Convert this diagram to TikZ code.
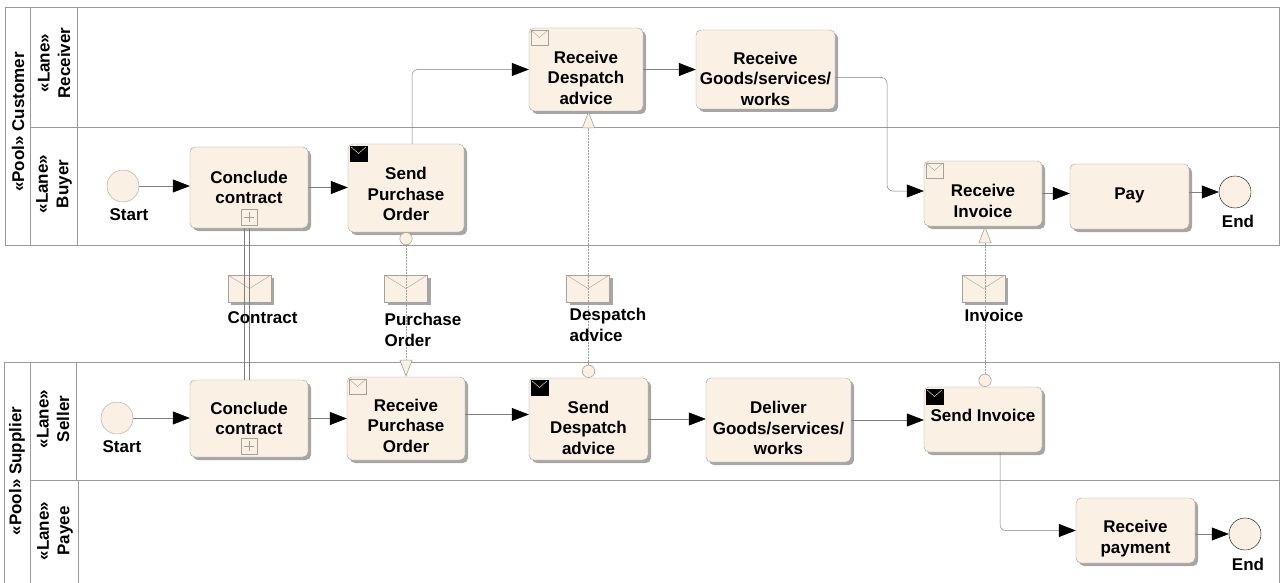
\documentclass[tikz,border=0pt]{standalone}
\usepackage{fontspec}
\setmainfont{Liberation Sans}
\usetikzlibrary{arrows.meta,shadows}

\definecolor{cream}{HTML}{FAF0E3}
\definecolor{edge}{HTML}{A8A198}
\definecolor{wire}{HTML}{808080}
\definecolor{pane}{HTML}{9A9A9A}

\newcommand{\iconpad}[1][25pt]{\rule{0pt}{#1}}

\tikzset{
  txt/.style={font=\bfseries\fontsize{17}{20.5}\selectfont, align=center, inner sep=0pt},
  task/.style={txt, draw=edge, fill=cream, rounded corners=5pt,
    general shadow={shadow xshift=3pt, shadow yshift=-3pt, fill=black!35}},
  event/.style={circle, draw=edge, fill=cream, minimum size=32pt, inner sep=0pt},
  endevent/.style={event, draw=black},
  envelope/.style={draw=edge, fill=cream, minimum width=43pt, minimum height=27pt, inner sep=0pt,
    general shadow={shadow xshift=3pt, shadow yshift=-3pt, fill=black!35},
    path picture={\draw[edge] (path picture bounding box.north west)
      -- (path picture bounding box.center) -- (path picture bounding box.north east);}},
  recvicon/.style={draw=edge, fill=cream, minimum width=17pt, minimum height=15pt, inner sep=0pt, anchor=north west,
    path picture={\draw[edge] (path picture bounding box.north west)
      -- (path picture bounding box.center) -- (path picture bounding box.north east);}},
  sendicon/.style={draw=black, fill=black, minimum width=17pt, minimum height=15pt, inner sep=0pt, anchor=north west,
    path picture={\draw[white] (path picture bounding box.north west)
      -- (path picture bounding box.center) -- (path picture bounding box.north east);}},
  plusicon/.style={draw=edge, fill=cream, minimum size=16pt, inner sep=0pt, anchor=south,
    path picture={\draw[edge] ([yshift=-3pt]path picture bounding box.north) -- ([yshift=3pt]path picture bounding box.south)
      ([xshift=3pt]path picture bounding box.west) -- ([xshift=-3pt]path picture bounding box.east);}},
  flow/.style={draw=wire, line width=0.5pt, rounded corners=6pt, -{Triangle[length=17pt,width=13pt,color=black,fill=black]}},
  msgflow/.style={draw=wire!75, line width=0.6pt, dash pattern=on 2pt off 1pt, {Circle[length=13pt,width=13pt,color=edge,fill=cream]}-{Triangle[length=17pt,width=13pt,color=edge,fill=cream]}},
  swim/.style={draw=pane, line width=0.8pt}
}

\begin{document}
\begin{tikzpicture}[x=1pt, y=-1pt]
    \useasboundingbox (0,0) rectangle (1280,583);

    % Pool customer
    \draw[swim] (5,7) rectangle (1279,245);
    \draw[swim] (30,7) -- (30,245);
    \draw[swim] (77,7) -- (77,245);
    \draw[swim] (30,127) -- (1279,127);
    \node[txt, rotate=90] (poolcust) at (18,122) {«Pool» Customer};
    \node[txt, rotate=90] (lanerecv) at (54,63) {«Lane»\\Receiver};
    \node[txt, rotate=90] (lanebuy) at (54,184) {«Lane»\\Buyer};

    % Pool supplier
    \draw[swim] (4,362) -- (1279,362) -- (1279,583);
    \draw[swim] (4,362) -- (4,583);
    \draw[swim] (30,362) -- (30,583);
    \draw[swim] (76,362) -- (76,480);
    \draw[swim] (78,480) -- (78,583);
    \draw[swim] (30,480) -- (1279,480);
    \node[txt, rotate=90] (poolsupp) at (17,471) {«Pool» Supplier};
    \node[txt, rotate=90] (lanesell) at (53,419) {«Lane»\\Seller};
    \node[txt, rotate=90] (lanepayee) at (55,531) {«Lane»\\Payee};

    % Messages
    \node[envelope] (msgcontract) at (249.5,288.5) {};
    \node[envelope] (msgorder) at (406,288.5) {};
    \node[envelope] (msgdespatch) at (588,288.5) {};
    \node[envelope] (msginvoice) at (983.5,288.5) {};

    % Buyer and receiver
    \node[event] (startbuy) at (123,186) {};
    \node[txt] (startbuylbl) at (129,215) {Start};
    \node[task, minimum width=118pt, minimum height=81pt] (concbuy) at (249,187.5) {Conclude\\contract};
    \node[plusicon] (plusbuy) at ([yshift=3pt]concbuy.south) {};
    \node[task, minimum width=116pt, minimum height=88pt] (sendpo) at (406,188) {\iconpad{}Send\\Purchase\\Order};
    \node[sendicon] (sendpoicon) at ([xshift=2pt,yshift=-2pt]sendpo.north west) {};
    \node[task, minimum width=114pt, minimum height=83pt] (recvdesp) at (586,69.5) {\iconpad[29pt]Receive\\Despatch\\advice};
    \node[recvicon] (recvdespicon) at ([xshift=2pt,yshift=-2pt]recvdesp.north west) {};
    \node[task, minimum width=139pt, minimum height=79pt] (recvgoods) at (765.5,69.5) {\iconpad[31pt]Receive\\Goods/services/\\works};
    \node[task, minimum width=118pt, minimum height=65pt] (recvinv) at (983,193.5) {\iconpad[27pt]Receive\\Invoice};
    \node[recvicon] (recvinvicon) at ([xshift=2pt,yshift=-2pt]recvinv.north west) {};
    \node[task, minimum width=119pt, minimum height=65pt] (pay) at (1129.5,196.5) {Pay\rule[-6pt]{0pt}{6pt}};
    \node[endevent] (endbuy) at (1235,192) {};
    \node[txt] (endbuylbl) at (1238,221) {End};

    % Seller and payee
    \node[event] (startsell) at (117,418) {};
    \node[txt] (startselllbl) at (122,447) {Start};
    \node[task, minimum width=118pt, minimum height=77pt] (concsell) at (249,418.5) {Conclude\\contract};
    \node[plusicon] (plussell) at ([yshift=3pt]concsell.south) {};
    \node[task, minimum width=118pt, minimum height=83pt] (recvpo) at (406,418.5) {\iconpad[27pt]Receive\\Purchase\\Order};
    \node[recvicon] (recvpoicon) at ([xshift=2pt,yshift=-2pt]recvpo.north west) {};
    \node[task, minimum width=119pt, minimum height=82pt] (senddesp) at (588.5,419) {\iconpad[30pt]Send\\Despatch\\advice};
    \node[sendicon] (senddespicon) at ([xshift=2pt,yshift=-2pt]senddesp.north west) {};
    \node[task, minimum width=145pt, minimum height=84pt] (deliver) at (778.5,420) {\iconpad[29pt]Deliver\\Goods/services/\\works};
    \node[task, minimum width=118pt, minimum height=65pt] (sendinv) at (983,419.5) {Send Invoice\rule[-8pt]{0pt}{8pt}};
    \node[sendicon] (sendinvicon) at ([xshift=2pt,yshift=-2pt]sendinv.north west) {};
    \node[task, minimum width=119pt, minimum height=65pt] (recvpay) at (1135.5,530.5) {\iconpad[29pt]Receive\\payment};
    \node[endevent] (endpayee) at (1245,534) {};
    \node[txt] (endpayeelbl) at (1248,564) {End};

    % Sequence flows
    \coordinate (goodsdrop) at (887,191);
    \draw[flow] (startbuy.east) -- (startbuy.east -| concbuy.west);
    \draw[flow] (concbuy.east) -- (concbuy.east -| sendpo.west);
    \draw[flow] ([xshift=6pt]sendpo.north) |- (recvdesp.west);
    \draw[flow] (recvdesp.east) -- (recvdesp.east -| recvgoods.west);
    \draw[flow] ([yshift=-8pt]recvgoods.east) -| (goodsdrop) -- (goodsdrop -| recvinv.west);
    \draw[flow] (recvinv.east) -- (recvinv.east -| pay.west);
    \draw[flow] ([yshift=4.5pt]pay.east) -- (endbuy.west);
    \draw[flow] (startsell.east) -- (startsell.east -| concsell.west);
    \draw[flow] (concsell.east) -- (concsell.east -| recvpo.west);
    \draw[flow] ([yshift=4pt]recvpo.east) -- ([yshift=4pt]recvpo.east -| senddesp.west);
    \draw[flow] (senddesp.east) -- (senddesp.east -| deliver.west);
    \draw[flow] (deliver.east) -- (deliver.east -| sendinv.west);
    \draw[flow] ([xshift=17pt]sendinv.south) |- (recvpay.west);
    \draw[flow] ([yshift=-3.5pt]recvpay.east) -- (endpayee.west);

    % Message flows
    \draw[wire] ([xshift=-4.5pt]concbuy.south) -- ([xshift=-4.5pt]concsell.north);
    \draw[wire] (concbuy.south) -- (concsell.north);
    \draw[msgflow] (sendpo.south) -- (recvpo.north);
    \draw[msgflow] (senddesp.north) -- (senddesp.north |- recvdesp.south);
    \draw[msgflow] ([xshift=2pt]sendinv.north) -- ([xshift=2pt]recvinv.south);

    % Message labels
    \node[txt] (lblcontract) at (262.5,318) {Contract};
    \node[txt, align=left] (lblorder) at (423,330) {Purchase\\Order};
    \node[txt, align=left] (lbldespatch) at (608,325) {Despatch\\advice};
    \node[txt] (lblinvoice) at (994,315) {Invoice};
\end{tikzpicture}
\end{document}
